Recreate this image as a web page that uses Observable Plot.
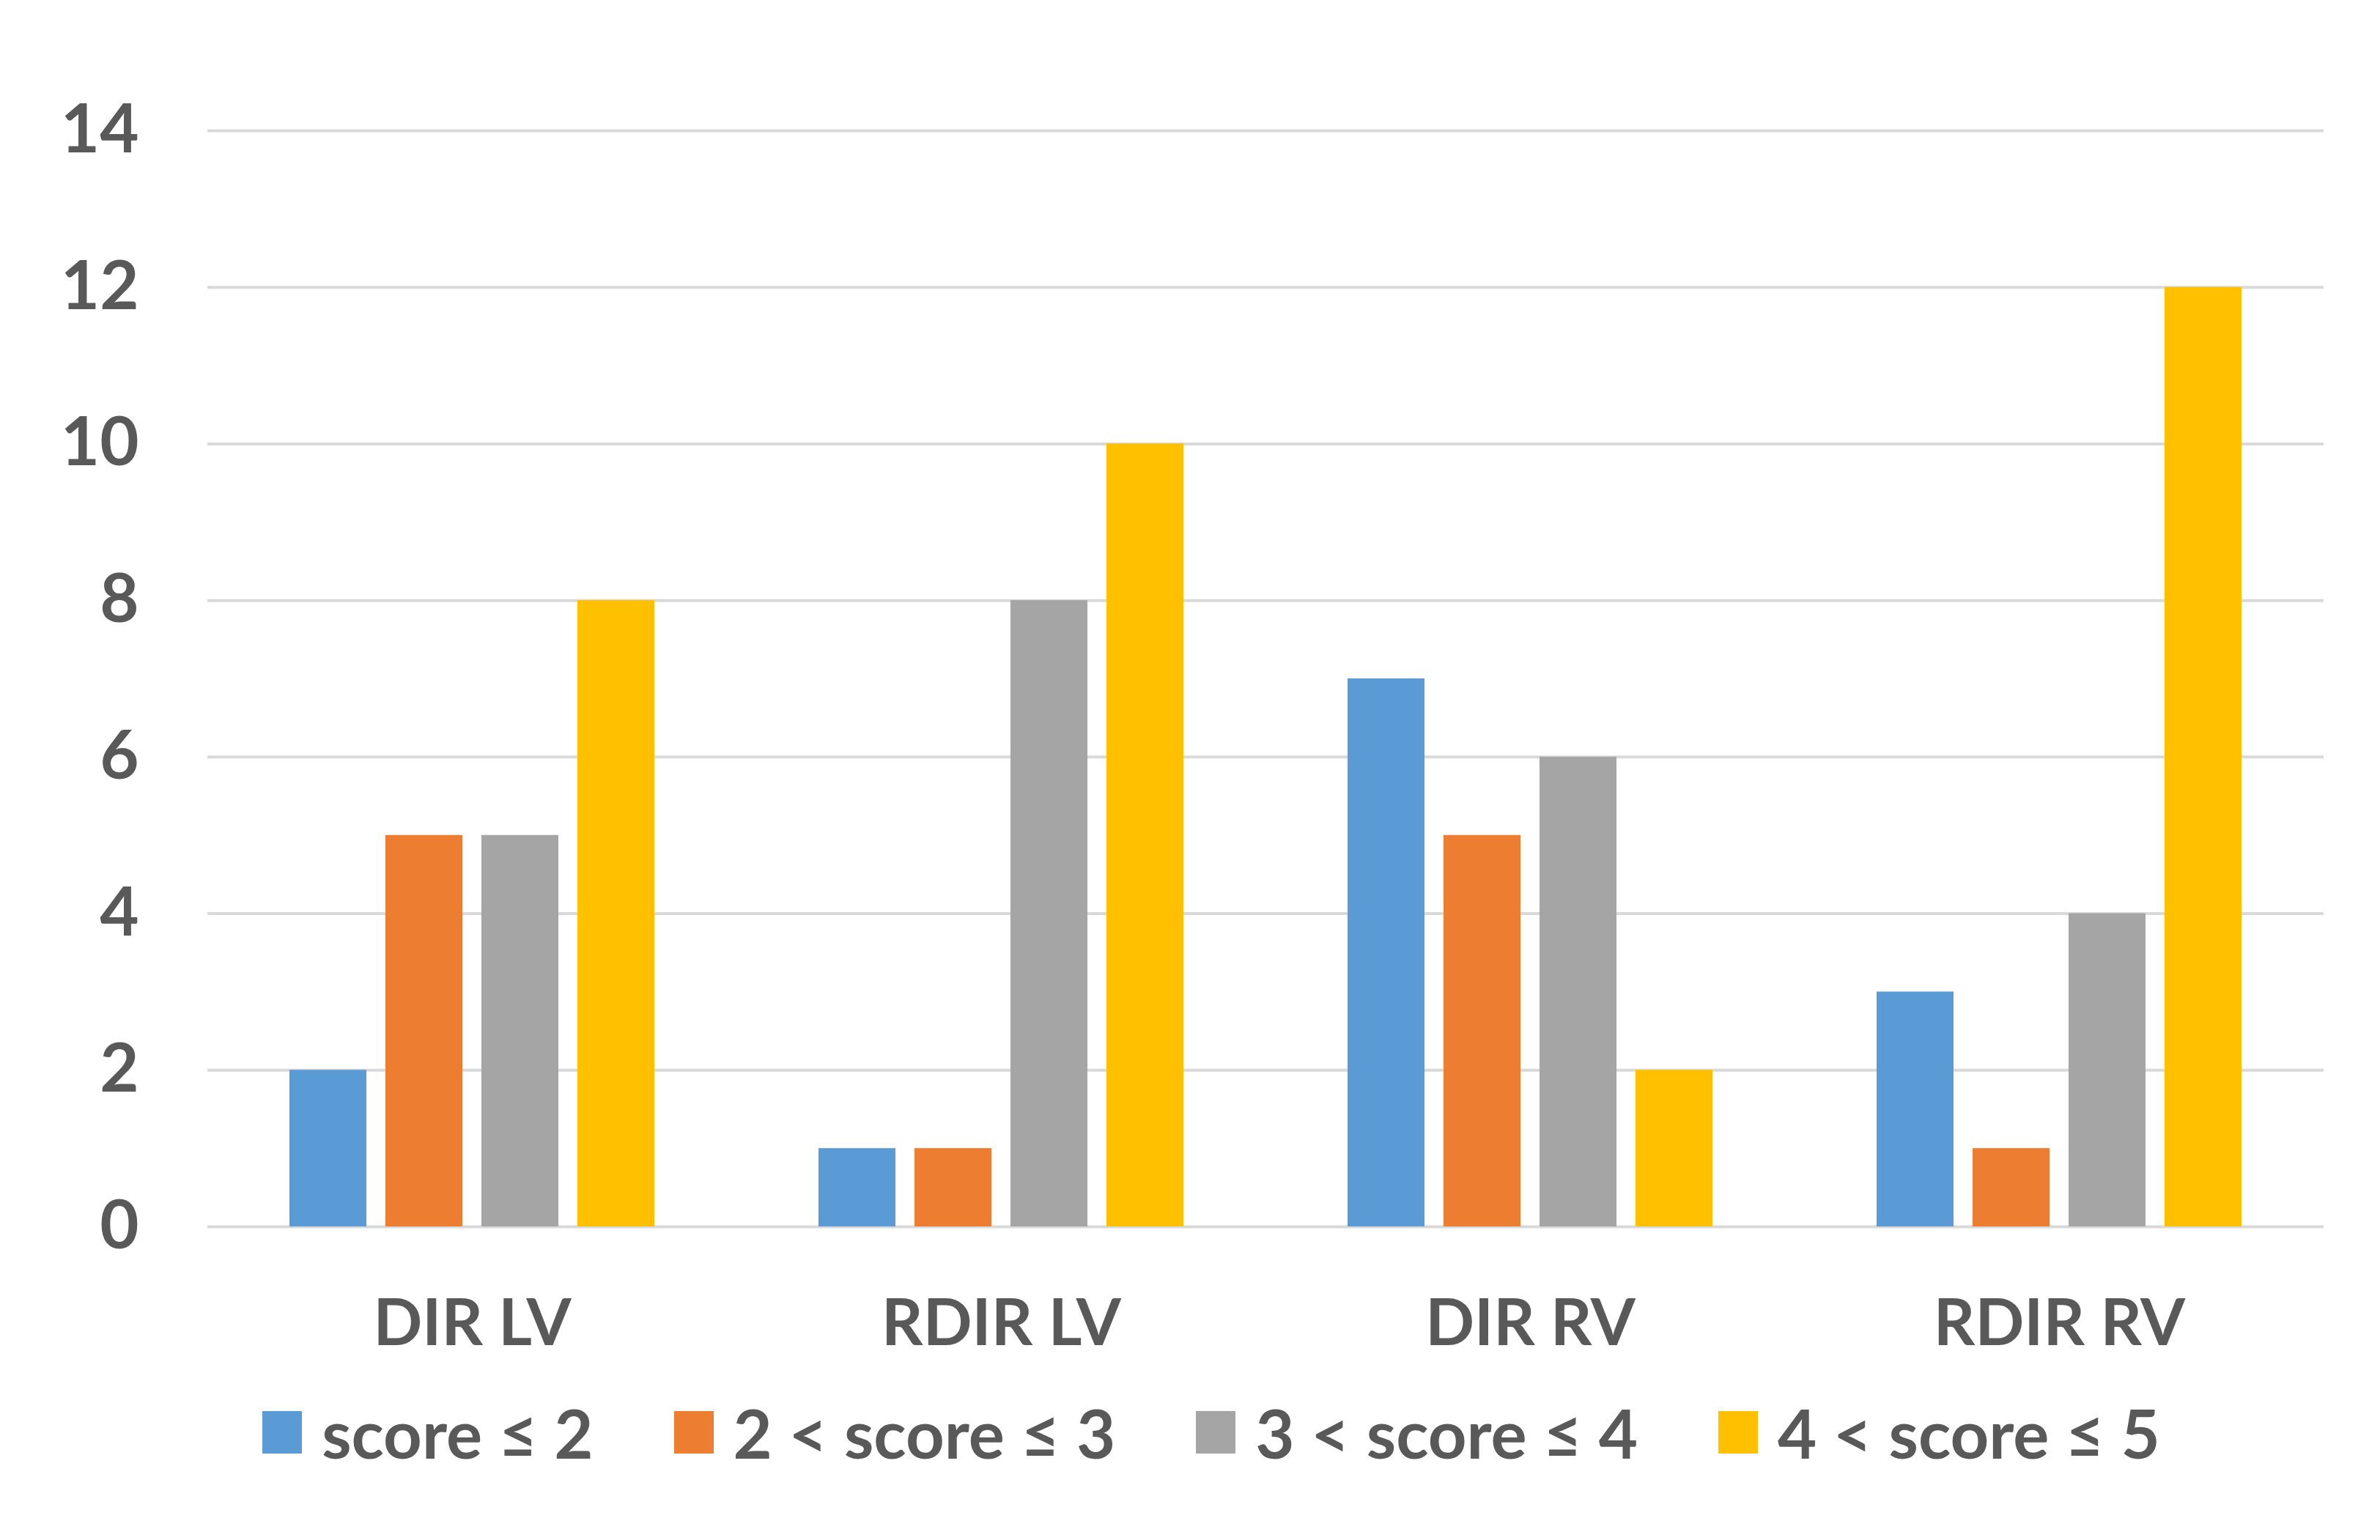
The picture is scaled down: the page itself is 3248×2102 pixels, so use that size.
<!DOCTYPE html>
<html>
<head>
<meta charset="utf-8">
<script src="https://cdn.jsdelivr.net/npm/d3@7"></script>
<script src="https://cdn.jsdelivr.net/npm/@observablehq/plot@0.6"></script>
<style>
  html, body { margin: 0; padding: 0; background: #fff; }
  body { width: 3248px; height: 2102px; overflow: hidden; font-family: Lato, "Open Sans", sans-serif; }
  #legend { display: flex; justify-content: center; align-items: center; height: 222px; padding-left: 58px; box-sizing: border-box; font-size: 92px; font-weight: 700; color: #595959; margin-top: -36px; }
  .item { display: flex; align-items: center; margin-right: 110px; }
  .item:last-child { margin-right: 0; }
  .sw { width: 54px; height: 58px; margin-right: 27px; }
</style>
</head>
<body>
<div id="chart"></div>
<div id="legend"></div>
<script>
const categories = ["DIR LV", "RDIR LV", "DIR RV", "RDIR RV"];
const series = ["score ≤ 2", "2 < score ≤ 3", "3 < score ≤ 4", "4 < score ≤ 5"];
const colors = ["#5B9BD5", "#ED7D31", "#A5A5A5", "#FFC000"];
const s1 = [2, 1, 7, 3];
const s2 = [5, 1, 5, 1];
const s3 = [5, 8, 6, 4];
const s4 = [8, 10, 2, 12];
const yTicks = [0, 2, 4, 6, 8, 10, 12, 14];

const valuesBySeries = [s1, s2, s3, s4];
const data = [];
categories.forEach((c, i) => {
  series.forEach((s, j) => data.push({cat: c, series: s, value: valuesBySeries[j][i]}));
});

const plot = Plot.plot({
  width: 3248,
  height: 1880,
  marginTop: 178,
  marginBottom: 206,
  marginLeft: 282,
  marginRight: 77,
  style: {fontFamily: "Lato, 'Open Sans', sans-serif", color: "#595959", background: "#fff"},
  fx: {domain: categories, padding: 0, label: null},
  x: {domain: series, paddingInner: 0.2, paddingOuter: 0.855, axis: null},
  y: {domain: [0, 14], label: null},
  color: {domain: series, range: colors},
  marks: [
    Plot.ruleY(yTicks, {stroke: "#D9D9D9", strokeWidth: 4}),
    Plot.barY(data, {fx: "cat", x: "series", y: "value", fill: "series"}),
    Plot.axisY({ticks: yTicks, tickSize: 0, tickPadding: 94, fontSize: 92, fontWeight: 700, label: null}),
    Plot.axisFx({anchor: "bottom", tickSize: 0, tickPadding: 99, fontSize: 88, fontWeight: 700, label: null})
  ]
});
document.getElementById("chart").appendChild(plot);

const legend = document.getElementById("legend");
series.forEach((s, i) => {
  const it = document.createElement("div");
  it.className = "item";
  const sw = document.createElement("div");
  sw.className = "sw";
  sw.style.background = colors[i];
  const t = document.createElement("span");
  t.textContent = s;
  it.appendChild(sw); it.appendChild(t);
  legend.appendChild(it);
});
</script>
</body>
</html>
